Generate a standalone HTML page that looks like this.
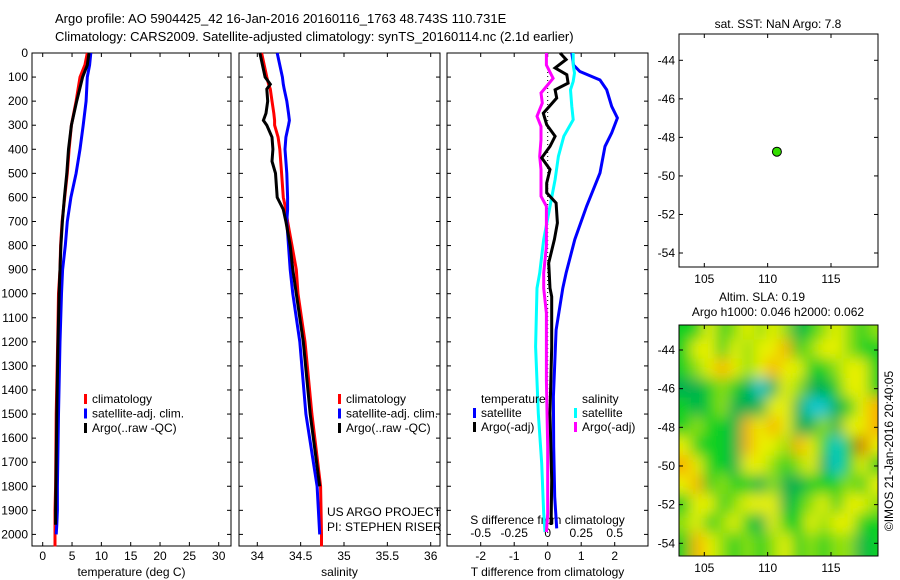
<!DOCTYPE html>
<html><head><meta charset="utf-8"><style>
html,body{margin:0;padding:0;background:#fff;}
svg{display:block;font-family:"Liberation Sans",sans-serif;}
text{fill:#000;}
</style></head><body>
<svg id="c" width="900" height="580" viewBox="0 0 900 580" xmlns="http://www.w3.org/2000/svg">
<defs>
<filter id="blur" x="-5%" y="-5%" width="110%" height="110%"><feGaussianBlur stdDeviation="7"/></filter>
<clipPath id="mapclip"><rect x="679" y="325" width="199" height="231"/></clipPath>
</defs>
<text x="55" y="23" font-size="13">Argo profile: AO 5904425_42 16-Jan-2016 20160116_1763 48.743S 110.731E</text>
<text x="55" y="41" font-size="13">Climatology: CARS2009. Satellite-adjusted climatology: synTS_20160114.nc (2.1d earlier)</text>
<g id="g"></g>
</svg>
<script>
// ---- data ----
const depthTicks = [0,100,200,300,400,500,600,700,800,900,1000,1100,1200,1300,1400,1500,1600,1700,1800,1900,2000];
const tempTicks = [0,5,10,15,20,25,30];
const salTicks = [34,34.5,35,35.5,36];
const tdiffTicks = [-2,-1,0,1,2];
const sdiffTicks = [-0.5,-0.25,0,0.25,0.5];
const sdiffLabels = ["-0.5","-0.25","0","0.25","0.5"];

const tDepth = [0,50,100,200,300,400,500,600,700,800,900,1000,1200,1500,1800,1900,1960,2000,2050];
const tClim  = [7.6,7.2,6.35,5.7,4.9,4.5,4.2,3.75,3.3,3.05,2.95,2.7,2.55,2.3,2.2,2.1,2.1,2.1,2.1];
const tSat   = [8.2,8.0,7.6,7.4,6.9,6.35,5.7,4.8,4.2,3.85,3.4,3.2,2.95,2.7,2.5,2.5,2.4,2.3,null];
const tArgo  = [7.9,7.6,6.8,5.8,4.9,4.4,4.1,3.7,3.35,3.1,2.95,2.8,2.6,2.4,2.25,2.2,2.2,null,null];

const sDepth = [0,100,130,150,200,250,280,300,350,400,450,500,600,650,700,800,900,1000,1200,1500,1800,2000,2050];
const sClim = [34.05,34.11,34.13,34.15,34.17,34.19,34.2,34.2,34.24,34.26,34.27,34.28,34.3,34.33,34.35,34.4,34.45,34.47,34.55,34.63,34.73,34.74,34.74];
const sSat  = [34.23,34.29,34.3,34.31,34.34,34.36,34.37,34.36,34.33,34.32,34.33,34.34,34.35,34.35,34.34,34.36,34.38,34.41,34.49,34.56,34.69,34.72,null];
const sArgo = [34.03,34.09,34.15,34.11,34.12,34.1,34.07,34.11,34.17,34.18,34.17,34.21,34.23,34.3,34.33,34.38,34.41,34.45,34.53,34.61,34.72,null,null];

const dTsatDepth = [0,50,77,112,153,222,270,332,388,498,637,775,914,977,1151,1428,1636,1843,1975];
const dTsat = [0.72,0.77,0.96,1.56,1.76,1.91,2.08,1.91,1.71,1.56,1.16,0.81,0.55,0.45,0.25,0.17,0.18,0.21,0.27];
const dTargoDepth = [0,27,62,90,125,153,187,250,298,346,388,436,484,540,581,623,706,775,872,977,1012,1220,1497,1774,1961];
const dTargo = [0.37,0.55,0.22,0.57,0.61,0.22,0.27,-0.13,-0.03,0.22,0.07,-0.18,0.07,-0.03,-0.03,0.25,0.29,0.2,0.03,0.07,0.12,0.12,0.07,0.12,0.1];
const dSsatDepth = [0,50,83,118,153,222,277,346,429,526,637,775,914,977,1220,1497,1705,1913,1990];
const dSsat = [0.19,0.19,0.2,0.19,0.17,0.18,0.19,0.12,0.08,0.055,0.017,-0.03,-0.06,-0.08,-0.09,-0.07,-0.045,-0.03,-0.02];
const dSargoDepth = [0,50,105,139,166,208,263,305,360,429,484,540,595,637,720,803,914,977,1081,1359,1636,1913,1990];
const dSargo = [-0.01,-0.01,0.04,-0.01,-0.05,-0.04,-0.08,-0.05,-0.05,-0.06,-0.05,-0.05,-0.05,-0.01,-0.01,-0.01,-0.03,-0.03,-0.01,-0.01,0.0,0.0,-0.01];

const lonTicks = [105,110,115];
const latTicks = [-44,-46,-48,-50,-52,-54];
const floatLon = 110.731, floatLat = -48.743;
const slaLons = [103.5,104.5,105.5,106.5,107.5,108.5,109.5,110.5,111.5,112.5,113.5,114.5,115.5,116.5,117.5,118.5];
const slaLats = [-43,-44,-45,-46,-47,-48,-49,-50,-51,-52,-53,-54,-55];
const slaRows = [
 [-1,-1,1,-1,0,1,0,1,0,-2,-1,0,1,0,-1,0],
 [-1,1,1,-1,1,0,1,1,2,-1,0,1,1,0,-1,-1],
 [-1,0,1,2,1,0,1,2,1,1,-1,-1,0,1,1,-1],
 [-2,-2,-1,0,-1,-2,-3,-2,1,0,-2,-2,-1,1,1,-1],
 [-1,-2,-1,0,-2,-2,-2,1,1,-2,-3,-3,-2,-1,1,2],
 [-1,0,-1,-1,-2,2,1,2,1,-2,-2,0,-2,1,1,2],
 [1,-1,-1,-1,-2,2,1,1,0,2,1,-1,-3,-1,3,1],
 [2,1,-1,-1,-2,1,1,0,-1,0,1,-2,-3,-1,1,-1],
 [1,2,-1,0,-1,-1,-2,0,-2,-2,-1,-1,-1,0,-1,1],
 [-1,1,1,-1,0,1,1,1,-2,-1,0,1,-1,1,1,0],
 [0,1,-1,0,1,-1,-2,1,-1,-1,1,0,1,1,-1,-1],
 [-1,2,1,0,-1,0,-1,0,1,-1,0,-1,0,0,-2,-1],
 [-1,2,1,0,-1,0,-1,0,1,-1,0,-1,0,0,-2,-1]
];

// ---- helpers ----
const NS="http://www.w3.org/2000/svg";
const G=document.getElementById('g');
function mk(tag,attrs,parent){const e=document.createElementNS(NS,tag);for(const k in attrs)e.setAttribute(k,attrs[k]);(parent||G).appendChild(e);return e;}
function txt(x,y,s,anchor,size,parent){const t=mk('text',{x:x,y:y,'font-size':size||12,'text-anchor':anchor||'start'},parent);t.textContent=s;return t;}

const yTop=53, yBot=546;
function yD(d){return yTop + d*0.2407;}
function xT(v){return 42.7 + v*5.867;}
function xS(v){return 257.3 + (v-34)*86.7;}
function xTd(v){return 547.7 + v*33.5;}
function xSd(v){return 547.7 + v*134;}
const panels=[[32,231],[239,440],[447,648]];

function line(depths,vals,xf,color,name,w){
  let d='';let started=false;
  for(let i=0;i<depths.length;i++){
    if(vals[i]===null||vals[i]===undefined)continue;
    d+=(started?'L':'M')+xf(vals[i]).toFixed(1)+' '+yD(depths[i]).toFixed(1);started=true;
  }
  const p=mk('path',{d:d,fill:'none',stroke:color,'stroke-width':w||3,'stroke-linejoin':'miter'});
  
  
}

panels.forEach((p,i)=>{
  const r=mk('rect',{x:p[0],y:yTop,width:p[1]-p[0],height:yBot-yTop,fill:'none',stroke:'#000','stroke-width':1});
  
  
  depthTicks.forEach(d=>{
    mk('line',{x1:p[0],x2:p[0]+4,y1:yD(d),y2:yD(d),stroke:'#000'});
    mk('line',{x1:p[1]-4,x2:p[1],y1:yD(d),y2:yD(d),stroke:'#000'});
  });
});
depthTicks.forEach(d=>{
  const t=txt(28,yD(d)+4,String(d),'end',12);
  
  
});
function xticks(ticks,xf,p,labels){
  ticks.forEach((v,i)=>{
    const x=xf(v);
    mk('line',{x1:x,x2:x,y1:yBot,y2:yBot-4,stroke:'#000'});
    mk('line',{x1:x,x2:x,y1:yTop,y2:yTop+4,stroke:'#000'});
    const t=txt(x,yBot+14,labels?labels[i]:String(v),'middle',12);
    
    
  });
}
xticks(tempTicks,xT,panels[0]);
xticks(salTicks,xS,panels[1]);
xticks(tdiffTicks,xTd,panels[2]);
sdiffTicks.forEach((v,i)=>{
  const t=txt(xSd(v),537,sdiffLabels[i],'middle',12);
  
  
});
let a=txt(131.5,576,'temperature (deg C)','middle',12);
a=txt(339.5,576,'salinity','middle',12);
a=txt(547.5,576,'T difference from climatology','middle',12);
a=txt(547.5,524,'S difference from climatology','middle',12);

const z=mk('line',{x1:xTd(0),x2:xTd(0),y1:yTop+15,y2:yD(2000),stroke:'#000','stroke-dasharray':'1,3','stroke-width':1});


line(tDepth,tClim,xT,'#f00','temp-climatology-line');
line(tDepth,tSat,xT,'#00f','temp-satellite-line');
line(tDepth,tArgo,xT,'#000','temp-argo-line');
line(sDepth,sClim,xS,'#f00','sal-climatology-line');
line(sDepth,sSat,xS,'#00f','sal-satellite-line');
line(sDepth,sArgo,xS,'#000','sal-argo-line');
line(dTsatDepth,dTsat,xTd,'#00f','tdiff-satellite-line');
line(dSsatDepth,dSsat,xSd,'#0ff','sdiff-satellite-line');
line(dSargoDepth,dSargo,xSd,'#f0f','sdiff-argo-line');
line(dTargoDepth,dTargo,xTd,'#000','tdiff-argo-line');

function legend(x,y,color,label,name){
  const b=mk('rect',{x:x,y:y-9,width:3,height:10,fill:color});
  
  const t=txt(x+8,y,label,'start',12);
}
[[84,'#f00','climatology'],[84,'#00f','satellite-adj. clim.'],[84,'#000','Argo(..raw -QC)']].forEach((l,i)=>legend(l[0],403+i*14.5,l[1],l[2],'temp-legend-entry'));
[[338,'#f00','climatology'],[338,'#00f','satellite-adj. clim.'],[338,'#000','Argo(..raw -QC)']].forEach((l,i)=>legend(l[0],403+i*14.5,l[1],l[2],'sal-legend-entry'));
a=txt(481,403,'temperature','start',12);
a=txt(582,403,'salinity','start',12);
legend(473,417,'#00f','satellite','diff-legend-entry');
legend(473,431,'#000','Argo(-adj)','diff-legend-entry');
legend(574,417,'#0ff','satellite','diff-legend-entry');
legend(574,431,'#f0f','Argo(-adj)','diff-legend-entry');

a=txt(327,516,'US ARGO PROJECT','start',12);
a=txt(327,531,'PI: STEPHEN RISER','start',12);

function xLon(v){return 704.3 + (v-105)*12.67;}
function yLat1(v){return 60.3 + (-44-v)*19.27;}
function yLat2(v){return 350 + (-44-v)*19.33;}
function mapAxes(y0,y1,yf,name){
  const r=mk('rect',{x:679,y:y0,width:199,height:y1-y0,fill:'none',stroke:'#000'});
  
  lonTicks.forEach(v=>{
    mk('line',{x1:xLon(v),x2:xLon(v),y1:y1,y2:y1-4,stroke:'#000'});
    mk('line',{x1:xLon(v),x2:xLon(v),y1:y0,y2:y0+4,stroke:'#000'});
    const t=txt(xLon(v),y1+16,String(v),'middle',12);
  });
  latTicks.forEach(v=>{
    mk('line',{x1:679,x2:683,y1:yf(v),y2:yf(v),stroke:'#000'});
    mk('line',{x1:874,x2:878,y1:yf(v),y2:yf(v),stroke:'#000'});
    const t=txt(675,yf(v)+4,String(v),'end',12);
  });
}
function slaColor(v){
  const c={'-3':'#10c8d0','-2':'#00b050','-1':'#10d020','0':'#90e010','1':'#e8f000','2':'#f8b000','3':'#d86000'};
  return c[String(Math.max(-3,Math.min(3,Math.round(v))))];
}
const hg=mk('g',{'clip-path':'url(#mapclip)'});

const hb=mk('g',{filter:'url(#blur)'},hg);
slaRows.forEach((row,ri)=>{
  row.forEach((v,ci)=>{
    const x0=xLon(slaLons[ci]-0.5)-1, x1=xLon(slaLons[ci]+0.5)+1;
    const ya=yLat2(slaLats[ri]+0.5)-1, yb=yLat2(slaLats[ri]-0.5)+1;
    const cell=mk('rect',{x:x0,y:ya,width:x1-x0+(ci==0?20:0)+(ci==row.length-1?20:0),height:yb-ya+(ri==0?20:0)+(ri==slaRows.length-1?20:0),fill:slaColor(v)},hb);
    if(ci==0)cell.setAttribute('x',x0-20);
    if(ri==0)cell.setAttribute('y',ya-20);
    
    
  });
});
mapAxes(34,267,yLat1,'position-map-frame');
mapAxes(325,556,yLat2,'sla-map-frame');
const dot=mk('circle',{cx:xLon(floatLon),cy:yLat1(floatLat),r:4.5,fill:'#33dd00',stroke:'#000','stroke-width':1});

a=txt(778,28,'sat. SST: NaN Argo: 7.8','middle',12);
a=txt(762,301,'Altim. SLA: 0.19','middle',12);
a=txt(778,316,'Argo h1000: 0.046 h2000: 0.062','middle',12);
a=txt(0,0,'©IMOS 21-Jan-2016 20:40:05','middle',12);a.setAttribute('transform','translate(893,451) rotate(-90)');
</script>
</body></html>
